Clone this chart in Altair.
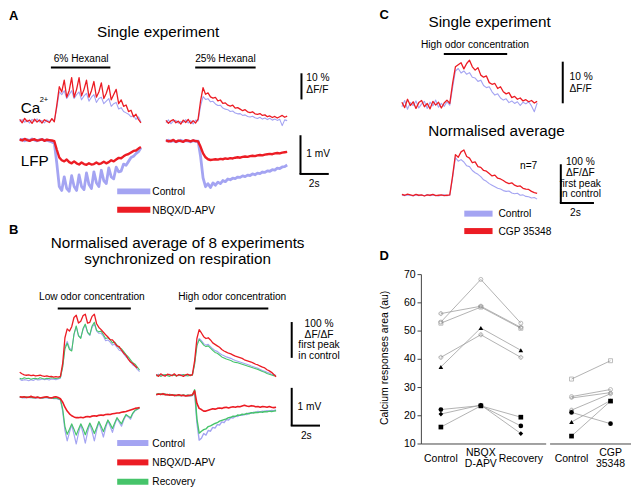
import altair as alt
import pandas as pd

# ======================= DATA =======================
# Panel A – single experiment, Ca2+ in % dF/F, LFP in mV (one sample every 0.175 s)
A6_CA_CONTROL = [-0.3, 0.4, -0.6, 0.2, -0.9, 0.5, -0.2, 0.7, -0.5, 0.1, -0.8, 0.3, -0.4, 0.6, -0.1,
                 5, 11, 10, 11.5, 8.5, 10, 11.5, 8.5, 10, 11, 8, 9.5, 10.5, 7.5, 9, 10, 7, 8.5, 9, 6.5,
                 7.5, 8.5, 5.5, 6.5, 7, 4.5, 5, 3.5, 3, 2.5, 1.5, 2, 0.5, 1.5, -0.5]
A6_CA_NBQX = [0.5, -0.8, 0.9, -0.3, 0.2, -1.0, 0.6, -0.5, 0.3, -0.9, 0.4, -0.2, -0.7, 0.8, -0.4,
              6, 13, 11, 15.5, 9, 11.5, 16.5, 9, 12, 16.5, 9.5, 12, 15.5, 9, 11.5, 15, 9, 11, 14.5, 8.5,
              10.5, 13.5, 8, 10, 12, 6.5, 8, 5.5, 6, 3.5, 4, 1.5, 2.5, 0.5, -0.8]
A6_LFP_CONTROL = [0.0, 0.02, -0.02, 0.01, -0.01, 0.03, 0.0, -0.02, 0.01, 0.02, -0.01, 0.0, -0.03, -0.05, -0.08,
                  -0.6, -1.2, -1.3, -0.95, -1.25, -1.32, -0.92, -1.2, -1.3, -0.9, -1.2, -1.28, -0.85, -1.15,
                  -1.25, -0.82, -1.1, -1.2, -0.78, -1.05, -1.12, -0.72, -0.95, -1.0, -0.7, -0.82, -0.8, -0.62,
                  -0.65, -0.55, -0.45, -0.42, -0.35, -0.3, -0.2]
A6_LFP_NBQX = [0.02, -0.01, 0.03, 0.0, -0.02, 0.01, 0.02, -0.01, 0.0, 0.02, -0.02, 0.01, 0.0, -0.01, -0.03,
               -0.25, -0.45, -0.52, -0.55, -0.5, -0.57, -0.6, -0.55, -0.6, -0.63, -0.58, -0.62, -0.64, -0.6,
               -0.63, -0.62, -0.58, -0.62, -0.6, -0.56, -0.6, -0.57, -0.52, -0.55, -0.5, -0.46, -0.47, -0.42,
               -0.38, -0.36, -0.32, -0.28, -0.27, -0.22, -0.18]
A25_CA_CONTROL = [-0.4, 0.7, -0.8, 0.2, 0.5, -0.6, 0.1, -0.3, 0.8, -0.5, 0.4, -0.9, 0.6, 0.3,
                  6, 9.6, 8.5, 8.8, 7.6, 7.8, 6.8, 6.2, 6.3, 5.2, 4.8, 4.6, 3.9, 4.1, 3.3, 3, 3.1, 2.4, 2.6,
                  2, 1.8, 2.1, 1.5, 1.2, 1.7, 1, 1.4, 0.8, 1.3, 0.6, 1, 0.5, 0.9, -1.5, 0.7, 0.4]
A25_CA_NBQX = [0.5, -0.6, 0.3, 0.8, -0.4, 0.2, -0.9, 0.6, -0.3, 0.9, -0.7, 0.4, -0.5, 1.0,
               8, 13, 10.5, 11, 9.5, 9, 9.3, 8, 8.3, 7, 7.2, 6.3, 6, 6.3, 5.2, 5.4, 4.8, 4.2, 4.6, 3.8,
               3.5, 3.8, 3, 2.8, 3.1, 2.4, 2.6, 1.9, 2.2, 1.6, 2, 1.4, 1.9, 2.4, 1.7, 2.1]
A25_LFP_CONTROL = [0.0, 0.02, -0.01, 0.01, -0.02, 0.0, 0.02, -0.01, 0.01, 0.0, -0.02, 0.01, -0.01, 0.0,
                   -0.4, -0.95, -1.18, -1.1, -1.2, -1.08, -1.14, -1.06, -1.1, -1.02, -1.05, -0.98, -1.0,
                   -0.96, -0.97, -0.93, -0.94, -0.9, -0.92, -0.88, -0.89, -0.85, -0.87, -0.83, -0.84, -0.8,
                   -0.81, -0.77, -0.78, -0.74, -0.75, -0.7, -0.71, -0.67, -0.66, -0.62]
A25_LFP_NBQX = [0.02, -0.01, 0.0, 0.03, -0.02, 0.01, 0.0, -0.02, 0.02, 0.01, -0.01, 0.02, 0.0, -0.01,
                -0.15, -0.32, -0.42, -0.47, -0.49, -0.48, -0.47, -0.48, -0.46, -0.47, -0.45, -0.46, -0.44,
                -0.45, -0.43, -0.42, -0.43, -0.41, -0.4, -0.41, -0.39, -0.38, -0.39, -0.37, -0.36, -0.37,
                -0.35, -0.34, -0.33, -0.34, -0.32, -0.31, -0.32, -0.3, -0.29, -0.28]

# Panel B – normalised average, Ca2+ in % of first control peak, LFP in mV (one sample every 0.16 s)
B_LOW_CA_CONTROL = [-3, -6, -4, -5, -7, -4, -6, -3, -5, -4, -2, -4, -3, -5, -2, -3, -4, -2, 0,
                    32, 85, 100, 82, 76, 118, 140, 116, 110, 132, 145, 124, 116, 138, 148, 128, 122, 122,
                    114, 102, 104, 98, 90, 92, 84, 76, 74, 66, 58, 52, 44, 36, 32, 24, 18]
B_LOW_CA_NBQX = [16, 12, 9, 8, 9, 7, 8, 6, 7, 8, 6, 5, 6, 4, 5, 3, 4, 3, 5,
                 40, 110, 134, 128, 140, 165, 171, 150, 155, 170, 174, 150, 152, 168, 174, 148, 138, 132,
                 125, 118, 112, 105, 104, 96, 88, 86, 76, 68, 62, 52, 44, 40, 33, 28]
B_LOW_CA_RECOVERY = [0, -2, 1, -1, 0, -3, -1, 0, -2, 1, -1, -2, 0, -1, 1, 0, -1, 0, 2,
                     30, 80, 95, 78, 74, 120, 142, 115, 108, 135, 147, 125, 118, 142, 152, 130, 126, 128,
                     118, 108, 110, 104, 96, 98, 90, 82, 80, 72, 64, 58, 50, 42, 38, 30, 22]
B_LOW_LFP_CONTROL = [0.01, 0.0, -0.01, 0.0, 0.01, -0.01, 0.0, -0.02, 0.0, -0.01, -0.02, 0.0, -0.01, -0.02,
                     -0.01, -0.03, -0.02, -0.04, -0.06,
                     -0.35, -0.85, -1.12, -0.9, -0.7, -0.95, -1.2, -0.92, -0.7, -0.92, -1.18, -0.9, -0.68,
                     -0.88, -1.12, -0.85, -0.64, -0.82, -1.02, -0.78, -0.6, -0.74, -0.9, -0.7, -0.54, -0.64,
                     -0.74, -0.58, -0.46, -0.5, -0.56, -0.42, -0.34, -0.31, -0.27]
B_LOW_LFP_NBQX = [0.02, 0.01, 0.02, 0.0, 0.01, 0.03, 0.01, 0.0, 0.01, -0.01, 0.0, 0.01, 0.02, 0.0, -0.01,
                  0.01, 0.02, 0.0, -0.03,
                  -0.12, -0.25, -0.35, -0.42, -0.47, -0.5, -0.52, -0.52, -0.51, -0.52, -0.5, -0.49, -0.5,
                  -0.48, -0.47, -0.48, -0.46, -0.45, -0.46, -0.44, -0.43, -0.44, -0.42, -0.41, -0.4, -0.4,
                  -0.38, -0.37, -0.36, -0.34, -0.32, -0.3, -0.28, -0.27, -0.26]
B_LOW_LFP_RECOVERY = [0.02, 0.0, 0.01, 0.02, 0.0, 0.01, -0.01, 0.0, 0.01, 0.0, -0.01, 0.0, 0.01, -0.01, 0.0,
                      -0.02, -0.01, -0.03, -0.05,
                      -0.3, -0.75, -0.95, -0.82, -0.68, -0.82, -0.97, -0.82, -0.68, -0.8, -0.96, -0.8, -0.66,
                      -0.78, -0.93, -0.78, -0.62, -0.74, -0.88, -0.72, -0.58, -0.68, -0.8, -0.66, -0.52, -0.6,
                      -0.68, -0.55, -0.44, -0.48, -0.52, -0.4, -0.33, -0.3, -0.26]
B_HIGH_CA_CONTROL = [0, 3, -1, 2, -2, 1, 3, -1, 2, 0, -1, 2, 1, -2, 0, 2, 1,
                     32, 84, 100, 94, 86, 82, 84, 78, 72, 67, 65, 60, 56, 53, 50, 48, 46, 43, 40, 38, 36, 34,
                     32, 30, 28, 25, 23, 21, 19, 16, 13, 11, 8, 6, 3, 1, 0]
B_HIGH_CA_NBQX = [2, -3, 4, 0, -2, 3, 1, -1, 4, -2, 2, 0, -3, 1, 3, -1, 2,
                  40, 100, 124, 115, 105, 100, 102, 96, 88, 84, 80, 76, 70, 66, 63, 60, 58, 55, 52, 50, 48,
                  46, 42, 40, 38, 36, 33, 30, 28, 25, 22, 20, 15, 12, 8, 2, -4]
B_HIGH_CA_RECOVERY = [-2, 1, -3, 0, 2, -1, -3, 1, 0, -2, 1, -1, 2, 0, -2, 1, 0,
                      30, 80, 97, 90, 82, 78, 80, 74, 68, 62, 60, 55, 50, 47, 44, 42, 40, 37, 35, 34, 32, 30,
                      28, 26, 24, 22, 20, 18, 16, 13, 10, 8, 5, 3, 1, -1, -2]
B_HIGH_LFP_CONTROL = [0.02, 0.04, 0.03, 0.05, 0.03, 0.02, 0.03, 0.01, 0.01, 0.0, 0.02, 0.0, 0.01, 0.0, 0.01,
                      -0.01, 0.0,
                      0.1, -0.7, -1.15, -1.1, -0.98, -1.02, -0.9, -0.92, -0.82, -0.84, -0.75, -0.76, -0.68,
                      -0.7, -0.62, -0.63, -0.57, -0.58, -0.53, -0.54, -0.5, -0.51, -0.48, -0.49, -0.45, -0.46,
                      -0.43, -0.44, -0.41, -0.42, -0.4, -0.41, -0.39, -0.4, -0.38, -0.39, -0.37]
B_HIGH_LFP_NBQX = [0.02, 0.04, 0.03, 0.05, 0.02, 0.03, 0.01, 0.02, 0.0, 0.01, 0.02, 0.0, 0.01, -0.01, 0.0,
                   0.01, 0.02,
                   0.12, -0.2, -0.33, -0.36, -0.4, -0.4, -0.38, -0.36, -0.34, -0.35, -0.33, -0.32, -0.33,
                   -0.31, -0.3, -0.32, -0.3, -0.29, -0.3, -0.28, -0.29, -0.27, -0.25, -0.27, -0.28, -0.26,
                   -0.27, -0.29, -0.28, -0.3, -0.28, -0.29, -0.3, -0.28, -0.3, -0.31, -0.3]
B_HIGH_LFP_RECOVERY = [0.03, 0.05, 0.04, 0.03, 0.04, 0.02, 0.03, 0.01, 0.02, 0.0, 0.01, 0.0, 0.02, 0.0, 0.01,
                       0.0, 0.01,
                       0.15, -0.6, -0.97, -0.92, -0.88, -0.86, -0.8, -0.78, -0.75, -0.72, -0.7, -0.66, -0.64,
                       -0.62, -0.6, -0.57, -0.56, -0.53, -0.54, -0.5, -0.51, -0.48, -0.49, -0.46, -0.47,
                       -0.44, -0.45, -0.43, -0.44, -0.42, -0.43, -0.41, -0.42, -0.4, -0.41, -0.4, -0.39]

# Panel C – single experiment (% dF/F) and normalised average (%), one sample every 0.17 s
C_SINGLE_CONTROL = [-0.6, 0.9, -1.2, 0.4, -0.3, 0.8, -0.9, 0.1, 0.7, -1.0, 0.5, -0.4, 1.0, -0.7, 0.2, -0.5,
                    0.6, -0.2,
                    4, 8, 8.6, 7.5, 8, 7.2, 7.6, 6.5, 6.3, 5.5, 5.8, 4.5, 4, 4.2, 3, 2.2, 2.5, 1.5, 1.0, 1.3,
                    0.4, 0.8, 0.2, 0.6, -0.3, 0.5, 0.1, 0.6, -0.4, -1.8, 0.3]
C_SINGLE_CGP = [0.5, -0.8, 1.2, -0.3, 0.6, -1.0, 0.4, 0.9, -0.6, 0.2, -1.1, 0.7, -0.2, 0.5, -0.9, 0.3, 1.0,
                0.2,
                5, 9, 9.5, 10, 8.5, 9.8, 10.6, 9, 8.2, 8.8, 7, 6.5, 6.8, 5.2, 4.8, 5, 3.8, 4.2, 3, 2.5, 2.8,
                1.6, 1.9, 1.2, 1.5, 0.8, 1.1, 0.6, 0.9, 0.3, 0.7]
C_NORM_CONTROL = [0, -1, 1, 0, -2, 1, -1, 0, -1, 2, -1, 1, 0, -2, 0, 1, -1, 0,
                  45, 97, 88, 92, 86, 76, 74, 64, 58, 54, 48, 40, 36, 30, 26, 22, 18, 16, 12, 10, 11, 6, 4, 5,
                  0, 1, -3, -4, -7, -6, -10]
C_NORM_CGP = [2, 0, 3, 1, -1, 2, 0, 1, -2, 1, 0, 2, -1, 0, 1, -1, 0, 1,
              50, 105, 98, 112, 117, 100, 96, 84, 86, 74, 72, 64, 62, 56, 50, 52, 44, 42, 38, 33, 30, 32, 26,
              23, 24, 18, 16, 15, 10, 7, 5]

# Panel D – calcium responses area (au), one row per experiment
D_CATEGORIES_1 = ["Control", "NBQX\nD-APV", "Recovery"]
D_GROUP_1 = [
    [53.2, 68.3, 52.8],
    [56.2, 58.8, 51.3],
    [52.8, 58.5, 51.0],
    [40.7, 48.7, 40.7],
    [37.3, 51.1, 43.2],
    [22.2, 23.6, 16.4],
    [20.6, 23.8, 13.7],
    [16.0, 23.5, 19.5],
]
D_MARKERS_1 = [("circle", False), ("cross", False), ("square", False), ("cross", False),
               ("triangle-up", True), ("circle", True), ("diamond", True), ("square", True)]
D_CATEGORIES_2 = ["Control", "CGP\n35348"]
D_GROUP_2 = [
    [33.0, 39.5],
    [26.8, 29.3],
    [26.3, 28.2],
    [22.0, 27.8],
    [21.2, 17.2],
    [17.8, 25.4],
    [12.8, 25.2],
]
D_MARKERS_2 = [("square", False), ("circle", False), ("diamond", False), ("cross", False),
               ("circle", True), ("triangle-up", True), ("square", True)]
D_Y_TICKS = [10, 20, 30, 40, 50, 60, 70]
D_Y_TITLE = "Calcium responses area (au)"

# ======================= LAYOUT / STYLE =======================
FIG_X_DOMAIN = [1, 640]
FIG_Y_DOMAIN = [494, 3]
PLOT_W, PLOT_H = 624, 476
FONT = "Liberation Sans"
COLORS = {"Control": "#a4a4f2", "Drug": "#ec1c24", "Recovery": "#46c46a"}

# panel placement: x origin, y baseline (figure px), px per second, px per unit, sample interval (s)
PANELS = {
    "A6_CA": (13, 117, 14.5, 2.7, 0.175),
    "A6_LFP": (13, 137, 14.5, 40, 0.175),
    "A25_CA": (163, 118, 14.5, 2.7, 0.175),
    "A25_LFP": (163, 138, 14.5, 40, 0.175),
    "B_LOW_CA": (13, 383, 14.5, 0.38, 0.16),
    "B_LOW_LFP": (13, 403, 14.5, 40, 0.16),
    "B_HIGH_CA": (153, 380, 14.5, 0.38, 0.16),
    "B_HIGH_LFP": (153, 401, 14.5, 40, 0.16),
    "C_SINGLE": (405, 100, 17, 4.3, 0.17),
    "C_NORM": (405, 194, 17, 0.4, 0.17),
}
TRACES = [
    ("A6_CA", "Control", A6_CA_CONTROL, 1.1), ("A6_CA", "Drug", A6_CA_NBQX, 1.3),
    ("A6_LFP", "Control", A6_LFP_CONTROL, 2.8), ("A6_LFP", "Drug", A6_LFP_NBQX, 2.4),
    ("A25_CA", "Control", A25_CA_CONTROL, 1.1), ("A25_CA", "Drug", A25_CA_NBQX, 1.3),
    ("A25_LFP", "Control", A25_LFP_CONTROL, 2.8), ("A25_LFP", "Drug", A25_LFP_NBQX, 2.4),
    ("B_LOW_CA", "Control", B_LOW_CA_CONTROL, 1.1), ("B_LOW_CA", "Recovery", B_LOW_CA_RECOVERY, 1.1),
    ("B_LOW_CA", "Drug", B_LOW_CA_NBQX, 1.3),
    ("B_LOW_LFP", "Control", B_LOW_LFP_CONTROL, 1.2), ("B_LOW_LFP", "Recovery", B_LOW_LFP_RECOVERY, 1.2),
    ("B_LOW_LFP", "Drug", B_LOW_LFP_NBQX, 1.6),
    ("B_HIGH_CA", "Control", B_HIGH_CA_CONTROL, 1.1), ("B_HIGH_CA", "Recovery", B_HIGH_CA_RECOVERY, 1.1),
    ("B_HIGH_CA", "Drug", B_HIGH_CA_NBQX, 1.3),
    ("B_HIGH_LFP", "Control", B_HIGH_LFP_CONTROL, 1.4), ("B_HIGH_LFP", "Recovery", B_HIGH_LFP_RECOVERY, 1.4),
    ("B_HIGH_LFP", "Drug", B_HIGH_LFP_NBQX, 1.6),
    ("C_SINGLE", "Control", C_SINGLE_CONTROL, 1.1), ("C_SINGLE", "Drug", C_SINGLE_CGP, 1.3),
    ("C_NORM", "Control", C_NORM_CONTROL, 1.1), ("C_NORM", "Drug", C_NORM_CGP, 1.3),
]

# panel D geometry
D_X1 = [445, 486, 527]
D_X2 = [579, 619]
D_Y0, D_V0, D_PXU = 451, 10, 175 / 60
D_AXIS_X = 425


def d_y(v):
    return D_Y0 - (v - D_V0) * D_PXU


# rules: x1, y1, x2, y2, width, colour
RULES = [
    # odor bars
    (45, 62, 106, 62, 2, "black"), (193, 62, 255, 62, 2, "black"),
    (52, 311, 127, 311, 2, "black"), (193, 311, 268, 311, 2, "black"),
    (448, 48, 513, 48, 2, "black"),
    # scale bars
    (302, 68, 302, 95, 2, "black"),
    (301, 132, 301, 172, 2, "black"), (300, 172, 330, 172, 2, "black"),
    (292, 325, 292, 362, 2, "black"),
    (292, 393, 292, 432, 2, "black"), (291, 432, 321, 432, 2, "black"),
    (570, 56, 570, 99, 2, "black"),
    (568, 162, 568, 202, 2, "black"), (567, 202, 602, 202, 2, "black"),
    # legend swatches
    (113, 190, 147, 190, 6, COLORS["Control"]), (113, 209, 147, 209, 6, COLORS["Drug"]),
    (113, 450, 145, 450, 6, COLORS["Control"]), (113, 470, 145, 470, 6, COLORS["Drug"]),
    (113, 490, 145, 490, 6, COLORS["Recovery"]),
    (469, 213, 498, 213, 6, COLORS["Control"]), (469, 231, 498, 231, 6, COLORS["Drug"]),
    # panel D axes
    (D_AXIS_X, d_y(70), D_AXIS_X, D_Y0, 1, "#444"),
    (D_AXIS_X, D_Y0, 553, D_Y0, 1, "#444"),
    (557, D_Y0, 640, D_Y0, 1, "#444"),
]
for tv in D_Y_TICKS:
    RULES.append((D_AXIS_X - 4, d_y(tv), D_AXIS_X, d_y(tv), 1, "#444"))

SMALL, TITLE, LETTER, DLAB = 10.2, 15.3, 13, 10.5
# text, x, y, size, align, weight
TEXTS = [
    ("A", 2, 9, LETTER, "left", "bold"),
    ("Single experiment", 155, 25, TITLE, "center", "normal"),
    ("6% Hexanal", 76, 53, SMALL, "center", "normal"),
    ("25% Hexanal", 224, 53, SMALL, "center", "normal"),
    ("Ca", 14, 104, TITLE, "left", "normal"),
    ("2+", 33.5, 96, 7.5, "left", "normal"),
    ("LFP", 14, 159, TITLE, "left", "normal"),
    ("10 %", 307, 73, SMALL, "left", "normal"),
    ("ΔF/F", 307, 85, SMALL, "left", "normal"),
    ("1 mV", 307, 151, SMALL, "left", "normal"),
    ("2s", 315, 182, SMALL, "center", "normal"),
    ("Control", 149, 191, SMALL, "left", "normal"),
    ("NBQX/D-APV", 149, 210, SMALL, "left", "normal"),
    ("B", 2, 230, LETTER, "left", "bold"),
    ("Normalised average of 8 experiments", 175, 243, TITLE, "center", "normal"),
    ("synchronized on respiration", 175, 260, TITLE, "center", "normal"),
    ("Low odor concentration", 87, 299, SMALL, "center", "normal"),
    ("High odor concentration", 231, 299, SMALL, "center", "normal"),
    ("100 %", 320, 327, SMALL, "center", "normal"),
    ("ΔF/ΔF", 320, 338, SMALL, "center", "normal"),
    ("first peak", 320, 349, SMALL, "center", "normal"),
    ("in control", 320, 360, SMALL, "center", "normal"),
    ("1 mV", 298, 413, SMALL, "left", "normal"),
    ("2s", 307, 443, SMALL, "center", "normal"),
    ("Control", 149, 451, SMALL, "left", "normal"),
    ("NBQX/D-APV", 149, 471, SMALL, "left", "normal"),
    ("Recovery", 149, 490, SMALL, "left", "normal"),
    ("C", 382, 8, LETTER, "left", "bold"),
    ("Single experiment", 495, 15, TITLE, "center", "normal"),
    ("High odor concentration", 480, 39, SMALL, "center", "normal"),
    ("10 %", 577, 72, SMALL, "left", "normal"),
    ("ΔF/F", 577, 84, SMALL, "left", "normal"),
    ("Normalised average", 502, 128, TITLE, "center", "normal"),
    ("n=7", 535, 164, SMALL, "center", "normal"),
    ("100 %", 588, 160, SMALL, "center", "normal"),
    ("ΔF/ΔF", 588, 171, SMALL, "center", "normal"),
    ("first peak", 588, 182, SMALL, "center", "normal"),
    ("in control", 588, 193, SMALL, "center", "normal"),
    ("2s", 583, 212, SMALL, "center", "normal"),
    ("Control", 504, 213, SMALL, "left", "normal"),
    ("CGP 35348", 504, 232, SMALL, "left", "normal"),
    ("D", 382, 257, LETTER, "left", "bold"),
]
for tv in D_Y_TICKS:
    TEXTS.append((str(tv), D_AXIS_X - 6, d_y(tv), DLAB, "right", "normal"))
for cats, xs in ((D_CATEGORIES_1, D_X1), (D_CATEGORIES_2, D_X2)):
    for cat, cx in zip(cats, xs):
        lines = cat.split("\n")
        if len(lines) == 1:
            TEXTS.append((lines[0], cx, 467, DLAB, "center", "normal"))
        else:
            TEXTS.append((lines[0], cx, 460, DLAB, "center", "normal"))
            TEXTS.append((lines[1], cx, 472, DLAB, "center", "normal"))

# ======================= TABLES =======================
trace_rows = []
for panel, series, values, sw in TRACES:
    x0, y0, pxs, pxu, dt = PANELS[panel]
    for i, v in enumerate(values):
        trace_rows.append({"trace": panel + "/" + series, "series": series, "sw": sw, "i": i,
                           "fx": x0 + i * dt * pxs, "fy": y0 - v * pxu})
traces_df = pd.DataFrame(trace_rows)

rules_df = pd.DataFrame(RULES, columns=["x1", "y1", "x2", "y2", "w", "c"])
texts_df = pd.DataFrame(TEXTS, columns=["label", "fx", "fy", "fsize", "align", "weight"])

d_rows = []
for g, (groups, markers, xs) in enumerate(((D_GROUP_1, D_MARKERS_1, D_X1), (D_GROUP_2, D_MARKERS_2, D_X2))):
    for e, (vals, (shape, filled)) in enumerate(zip(groups, markers)):
        for k, v in enumerate(vals):
            d_rows.append({"exp": f"{g}-{e}", "k": k, "fx": xs[k], "fy": d_y(v), "value": v,
                           "shape": shape, "filled": filled})
d_df = pd.DataFrame(d_rows)

# ======================= CHART =======================
XS = alt.Scale(domain=FIG_X_DOMAIN, nice=False, zero=False)
YS = alt.Scale(domain=FIG_Y_DOMAIN, nice=False, zero=False)


def X(f="fx"):
    return alt.X(f"{f}:Q", scale=XS, axis=None)


def Y(f="fy"):
    return alt.Y(f"{f}:Q", scale=YS, axis=None)


layers = []
for s in ["Control", "Recovery", "Drug"]:
    layers.append(
        alt.Chart(traces_df[traces_df.series == s]).mark_line(strokeJoin="round", color=COLORS[s]).encode(
            x=X(), y=Y(), detail="trace:N", order="i:Q",
            strokeWidth=alt.StrokeWidth("sw:Q", scale=None),
        )
    )

layers.append(
    alt.Chart(rules_df).mark_rule().encode(
        x=X("x1"), y=Y("y1"), x2="x2:Q", y2="y2:Q",
        color=alt.Color("c:N", scale=None),
        strokeWidth=alt.StrokeWidth("w:Q", scale=None),
    )
)

# panel D lines and markers
layers.append(
    alt.Chart(d_df).mark_line(color="#a0a0a0", strokeWidth=0.8).encode(
        x=X(), y=Y(), detail="exp:N", order="k:Q"
    )
)
layers.append(
    alt.Chart(d_df[~d_df.filled]).mark_point(filled=False, color="#8a8a8a", strokeWidth=0.8, size=16).encode(
        x=X(), y=Y(), shape=alt.Shape("shape:N", scale=None)
    )
)
layers.append(
    alt.Chart(d_df[d_df.filled]).mark_point(filled=True, color="black", opacity=1, size=22).encode(
        x=X(), y=Y(), shape=alt.Shape("shape:N", scale=None)
    )
)

# text layers, one per (alignment, weight, size)
for (align, weight, fsize), sub in texts_df.groupby(["align", "weight", "fsize"]):
    layers.append(
        alt.Chart(sub.reset_index(drop=True)).mark_text(
            align=align, baseline="middle", font=FONT, fontWeight=weight, fontSize=float(fsize),
            color="black").encode(x=X(), y=Y(), text="label:N")
    )

ytitle_df = pd.DataFrame([{"label": D_Y_TITLE, "fx": 388, "fy": 362}])
layers.append(
    alt.Chart(ytitle_df).mark_text(angle=270, align="center", baseline="middle", font=FONT, fontSize=10.5,
                                   color="black").encode(x=X(), y=Y(), text="label:N")
)

chart = alt.layer(*layers).properties(width=PLOT_W, height=PLOT_H, padding=0).configure_view(strokeWidth=0)

chart.save("out.html", embed_options={"renderer": "svg", "actions": False})
